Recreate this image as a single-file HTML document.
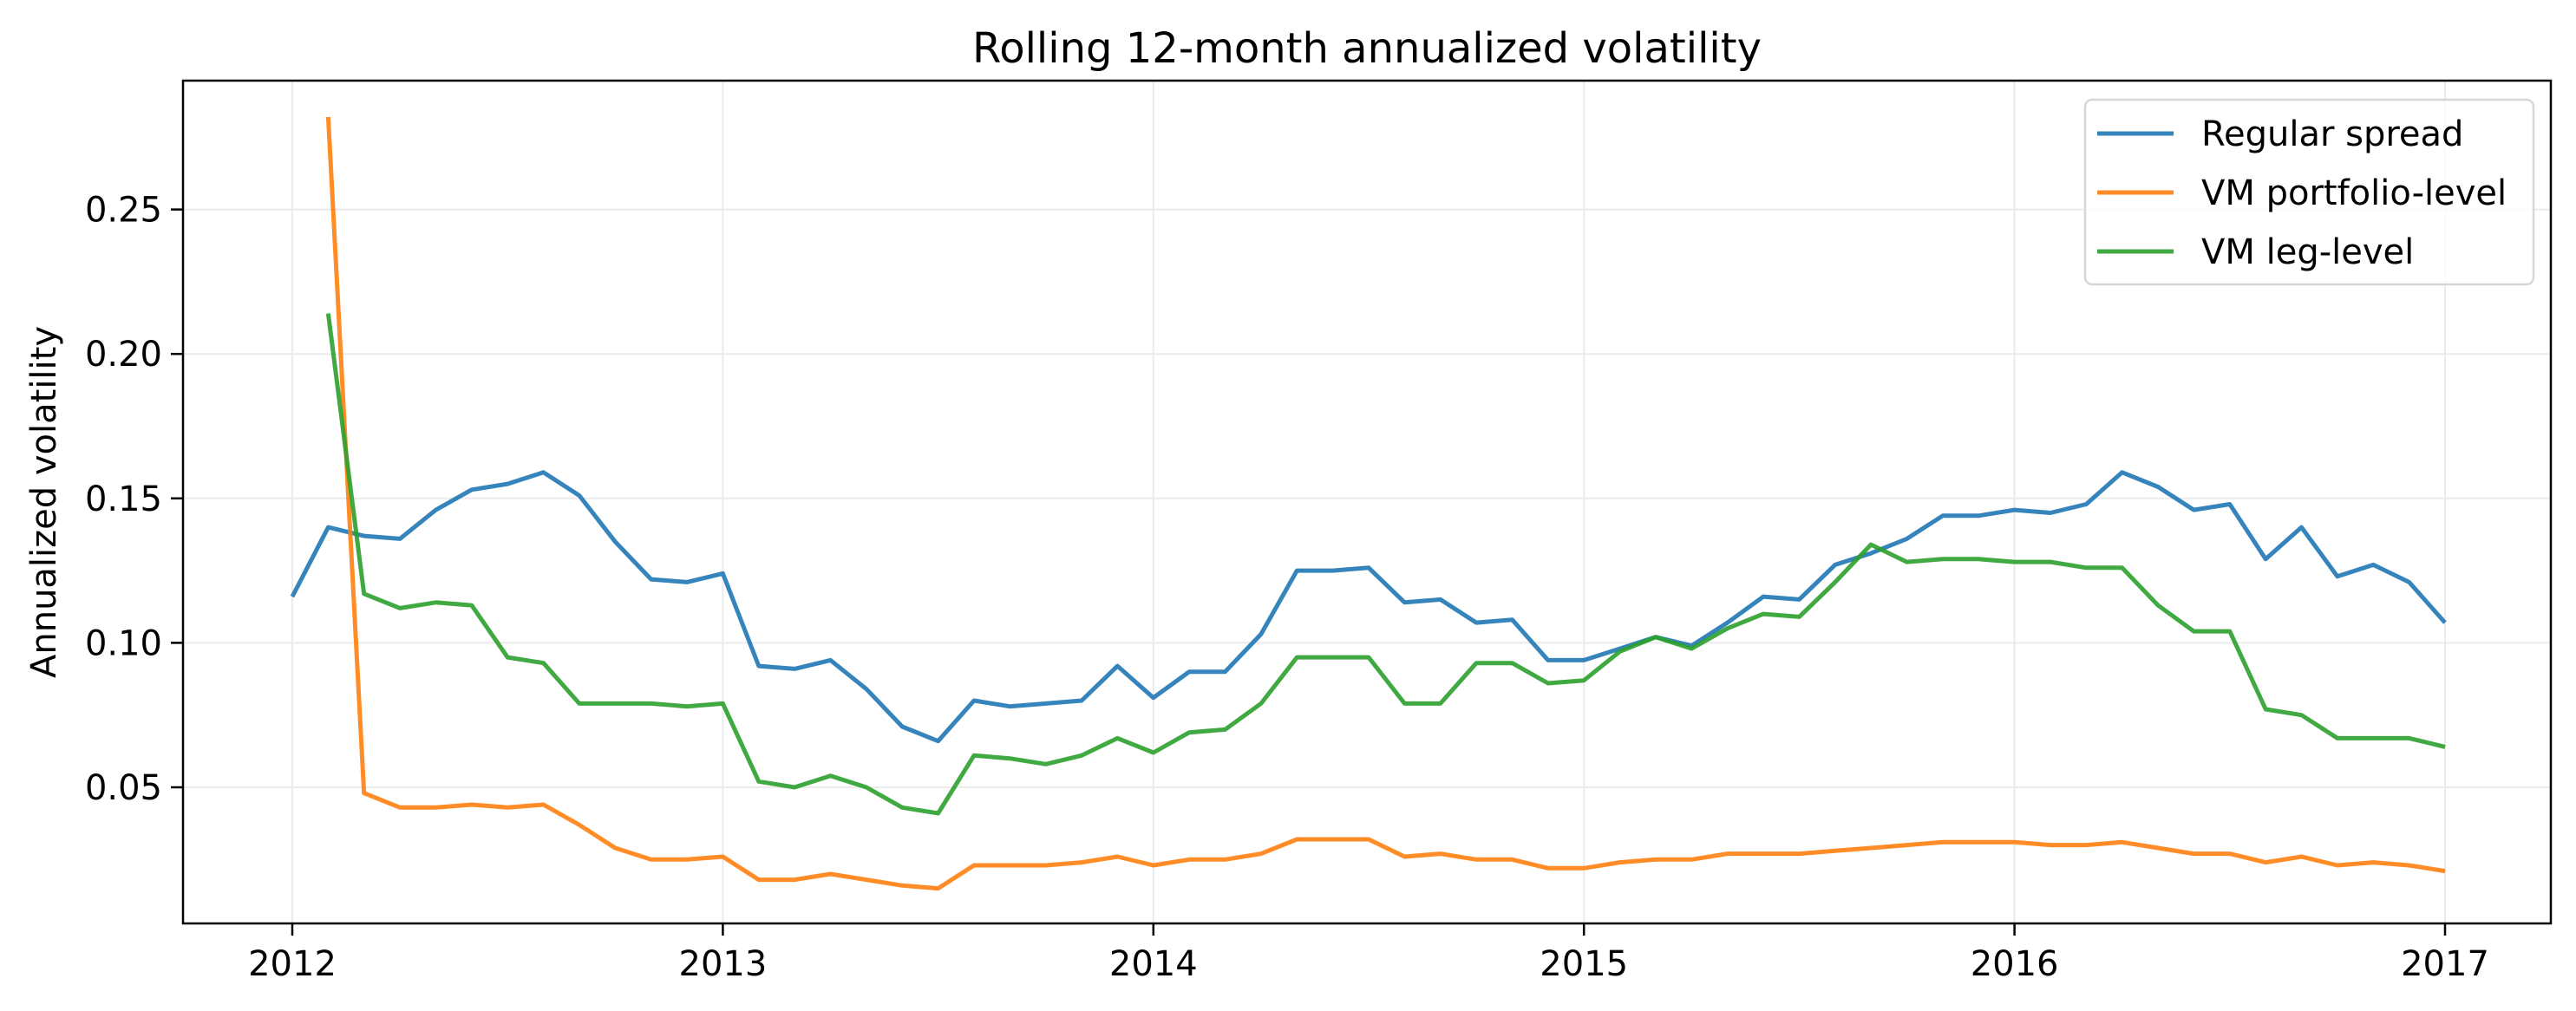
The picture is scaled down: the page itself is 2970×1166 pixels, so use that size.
<!DOCTYPE html>
<html><head><meta charset="utf-8"><style>
html,body{margin:0;padding:0;background:#fff}
svg{display:block}
text{font-family:"DejaVu Sans","Liberation Sans",sans-serif;fill:#000}
</style></head><body>
<svg id="chart" width="2970" height="1166" viewBox="0 0 2970 1166" xmlns="http://www.w3.org/2000/svg">
<rect width="2970" height="1166" fill="#fff"/>
<text x="1576" y="72" font-size="48" text-anchor="middle">Rolling 12-month annualized volatility</text>
<text x="0" y="0" font-size="40" text-anchor="middle" transform="translate(64,579) rotate(-90)">Annualized volatility</text>
<g id="grid"></g>
<g id="series"></g>
<g id="axes"></g>
<g id="legend"></g>
</svg>
<script>
const xTicks = [2012, 2013, 2014, 2015, 2016, 2017];
const yTicks = [0.05, 0.10, 0.15, 0.20, 0.25];
const yTickLabels = ["0.05", "0.10", "0.15", "0.20", "0.25"];
const seriesNames = ["Regular spread", "VM portfolio-level", "VM leg-level"];
const regularSpread = [0.116,0.140,0.137,0.136,0.146,0.153,0.155,0.159,0.151,0.135,0.122,0.121,0.124,0.092,0.091,0.094,0.084,0.071,0.066,0.080,0.078,0.079,0.080,0.092,0.081,0.090,0.090,0.103,0.125,0.125,0.126,0.114,0.115,0.107,0.108,0.094,0.094,0.098,0.102,0.099,0.107,0.116,0.115,0.127,0.131,0.136,0.144,0.144,0.146,0.145,0.148,0.159,0.154,0.146,0.148,0.129,0.140,0.123,0.127,0.121,0.107];
const vmPortfolio = [null,0.282,0.048,0.043,0.043,0.044,0.043,0.044,0.037,0.029,0.025,0.025,0.026,0.018,0.018,0.020,0.018,0.016,0.015,0.023,0.023,0.023,0.024,0.026,0.023,0.025,0.025,0.027,0.032,0.032,0.032,0.026,0.027,0.025,0.025,0.022,0.022,0.024,0.025,0.025,0.027,0.027,0.027,0.028,0.029,0.030,0.031,0.031,0.031,0.030,0.030,0.031,0.029,0.027,0.027,0.024,0.026,0.023,0.024,0.023,0.021];
const vmLeg = [null,0.214,0.117,0.112,0.114,0.113,0.095,0.093,0.079,0.079,0.079,0.078,0.079,0.052,0.050,0.054,0.050,0.043,0.041,0.061,0.060,0.058,0.061,0.067,0.062,0.069,0.070,0.079,0.095,0.095,0.095,0.079,0.079,0.093,0.093,0.086,0.087,0.097,0.102,0.098,0.105,0.110,0.109,0.121,0.134,0.128,0.129,0.129,0.128,0.128,0.126,0.126,0.113,0.104,0.104,0.077,0.075,0.067,0.067,0.067,0.064];

const L=211,R=2941,T=93,B=1065;
function xs(t){return 337+(t-2012)*(2819-337)/5;}
function ys(v){return 908-(v-0.05)/0.05*166.6;}
const NS="http://www.w3.org/2000/svg";
function mk(tag,attrs,parent){const e=document.createElementNS(NS,tag);for(const k in attrs)e.setAttribute(k,attrs[k]);parent.appendChild(e);return e;}
const grid=document.getElementById('grid'),axes=document.getElementById('axes'),ser=document.getElementById('series'),leg=document.getElementById('legend');
xTicks.forEach((t,i)=>{
  const x=xs(t);
  const g=mk('line',{x1:x,x2:x,y1:T,y2:B,stroke:'#ebebeb','stroke-width':2},grid);
  
  
  const tk=mk('line',{x1:x,x2:x,y1:B,y2:B+14,stroke:'#000','stroke-width':2.5},axes);
  
  
  const tx=mk('text',{x:x,y:B+60,'font-size':40,'text-anchor':'middle'},axes);
  tx.textContent=String(t);
  
  
});
yTicks.forEach((v,i)=>{
  const y=ys(v);
  const g=mk('line',{x1:L,x2:R,y1:y,y2:y,stroke:'#ebebeb','stroke-width':2},grid);
  
  
  const tk=mk('line',{x1:L-14,x2:L,y1:y,y2:y,stroke:'#000','stroke-width':2.5},axes);
  
  
  const tx=mk('text',{x:L-24,y:y+14,'font-size':40,'text-anchor':'end'},axes);
  tx.textContent=yTickLabels[i];
  
  
});
const frame=mk('rect',{x:L,y:T,width:R-L,height:B-T,fill:'none',stroke:'#000','stroke-width':2.5},axes);


const colors=['#1f77b4','#ff7f0e','#2ca02c'];
const allSeries=[regularSpread,vmPortfolio,vmLeg];
const lineNames=['line-regular-spread','line-vm-portfolio','line-vm-leg'];
allSeries.forEach((arr,s)=>{
  let d='';
  arr.forEach((v,i)=>{if(v==null)return;d+=(d?'L':'M')+xs(2012+i/12).toFixed(1)+','+ys(v).toFixed(1);});
  const p=mk('path',{d:d,fill:'none',stroke:colors[s],'stroke-width':5,'stroke-opacity':0.9,'stroke-linejoin':'round'},ser);
  
  
});
const box=mk('rect',{x:2404,y:115,width:517,height:213,rx:8,fill:'#fff','fill-opacity':0.8,stroke:'#d6d6d6','stroke-width':2.5},leg);


const rows=[168,236,304];
seriesNames.forEach((n,i)=>{
  const ln=mk('line',{x1:2418,x2:2506,y1:rows[i]-14,y2:rows[i]-14,stroke:colors[i],'stroke-width':5,'stroke-opacity':0.9},leg);
  
  
  const t=mk('text',{x:2538,y:rows[i],'font-size':40},leg);
  t.textContent=n;
  
  
});
</script>
</body></html>
